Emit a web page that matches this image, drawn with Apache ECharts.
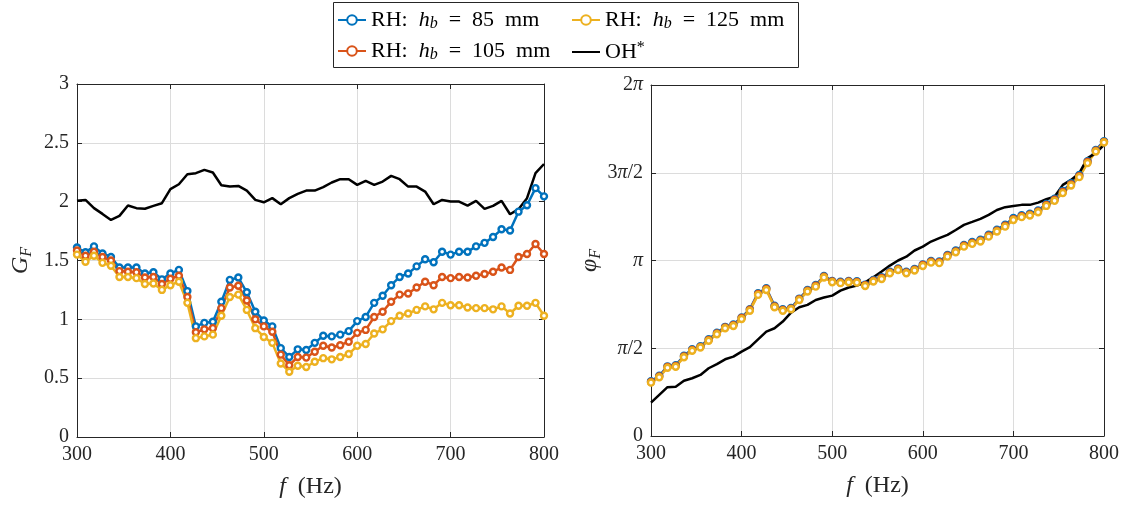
<!DOCTYPE html>
<html>
<head>
<meta charset="utf-8">
<script src="https://cdn.jsdelivr.net/npm/echarts@6/dist/echarts.min.js"></script>
<style>html,body{margin:0;padding:0;background:#fff}#c{width:1133px;height:506px}</style>
</head>
<body>
<div id="c"></div>
<script>
// Frequencies (Hz)
var freq = [300,309.09,318.18,327.27,336.36,345.45,354.55,363.64,372.73,381.82,390.91,400,409.09,418.18,427.27,436.36,445.45,454.55,463.64,472.73,481.82,490.91,500,509.09,518.18,527.27,536.36,545.45,554.55,563.64,572.73,581.82,590.91,600,609.09,618.18,627.27,636.36,645.45,654.55,663.64,672.73,681.82,690.91,700,709.09,718.18,727.27,736.36,745.45,754.55,763.64,772.73,781.82,790.91,800];

// Gain G_F (left panel)
var gain85 = [1.61,1.57,1.62,1.56,1.53,1.44,1.44,1.44,1.39,1.40,1.34,1.39,1.42,1.24,0.94,0.97,0.98,1.15,1.335,1.355,1.23,1.065,0.99,0.94,0.755,0.68,0.745,
  0.74,0.80,0.86,0.855,0.87,0.90,0.985,1.02,1.14,1.20,1.29,1.36,1.39,1.45,1.51,1.485,1.575,1.55,1.575,1.575,1.62,1.65,1.70,1.765,1.755,1.915,1.97,2.115,2.045];
var gain105 = [1.585,1.54,1.575,1.53,1.50,1.41,1.405,1.40,1.355,1.36,1.30,1.345,1.37,1.19,0.89,0.915,0.925,1.095,1.27,1.285,1.16,1.00,0.94,0.895,0.70,0.61,0.68,
  0.675,0.725,0.775,0.76,0.78,0.81,0.885,0.91,1.02,1.065,1.15,1.21,1.22,1.27,1.32,1.29,1.36,1.35,1.36,1.355,1.37,1.385,1.405,1.44,1.42,1.53,1.555,1.64,1.555];
var gain125 = [1.55,1.49,1.54,1.48,1.455,1.36,1.36,1.35,1.30,1.305,1.25,1.29,1.32,1.14,0.84,0.855,0.87,1.03,1.19,1.21,1.08,0.925,0.85,0.80,0.625,0.555,0.605,
  0.595,0.64,0.67,0.66,0.68,0.705,0.775,0.79,0.88,0.915,0.985,1.03,1.05,1.08,1.11,1.085,1.14,1.12,1.12,1.10,1.095,1.095,1.085,1.11,1.05,1.115,1.115,1.14,1.03];
var gainOH = [2.007,2.015,1.945,1.896,1.845,1.879,1.967,1.945,1.94,1.964,1.987,2.106,2.148,2.233,2.242,2.27,2.248,2.14,2.128,2.134,2.094,2.015,1.995,2.03,1.978,2.03,2.066,2.094,
  2.094,2.123,2.163,2.191,2.191,2.143,2.177,2.143,2.171,2.219,2.191,2.128,2.128,2.086,1.978,2.015,2.001,2.001,1.967,2.007,1.939,1.964,2.007,1.893,1.936,2.03,2.242,2.32];

// Phase phi_F in units of pi (right panel)
var phase85 = [0.312,0.343,0.397,0.404,0.457,0.494,0.512,0.551,0.588,0.622,0.636,0.676,0.723,0.814,0.842,0.742,0.722,0.730,0.783,0.832,0.860,0.912,0.884,0.879,0.884,0.882,0.862,0.889,0.905,0.936,0.955,0.936,0.952,0.978,0.998,0.995,1.032,1.057,1.089,1.105,1.119,1.147,1.176,1.204,1.242,1.258,1.266,1.285,1.322,1.352,1.397,1.440,1.487,1.566,1.630,1.680];
var phase105 = [0.308,0.339,0.393,0.399,0.453,0.490,0.508,0.547,0.584,0.618,0.631,0.672,0.719,0.810,0.838,0.738,0.718,0.726,0.779,0.828,0.856,0.908,0.880,0.875,0.880,0.878,0.859,0.885,0.900,0.932,0.951,0.932,0.948,0.974,0.993,0.990,1.027,1.052,1.084,1.100,1.113,1.141,1.170,1.198,1.236,1.252,1.261,1.280,1.316,1.346,1.390,1.434,1.481,1.561,1.626,1.676];
var phase125 = [0.304,0.335,0.389,0.395,0.449,0.486,0.504,0.543,0.580,0.614,0.627,0.667,0.714,0.804,0.832,0.734,0.714,0.722,0.775,0.823,0.851,0.903,0.876,0.871,0.876,0.874,0.855,0.880,0.895,0.927,0.946,0.927,0.943,0.969,0.988,0.985,1.022,1.047,1.079,1.095,1.108,1.136,1.165,1.193,1.231,1.247,1.256,1.275,1.311,1.340,1.384,1.427,1.475,1.555,1.621,1.672];
var phaseOH = [0.190,0.234,0.278,0.281,0.315,0.329,0.348,0.386,0.410,0.437,0.452,0.481,0.506,0.551,0.595,0.614,0.652,0.703,0.734,0.747,0.775,0.789,0.800,0.828,0.846,0.857,0.876,0.905,0.937,0.971,1.000,1.022,1.057,1.079,1.108,1.127,1.146,1.174,1.203,1.220,1.237,1.260,1.288,1.304,1.311,1.317,1.317,1.330,1.349,1.364,1.431,1.459,1.498,1.583,1.612,1.659];

// Tick labels
var xTicks = ['300','400','500','600','700','800'];
var gainTicks = ['0','0.5','1','1.5','2','2.5','3'];
var phaseTicks = ['0','{i|π}/2','{i|π}','3{i|π}/2','2{i|π}'];

var FONT = 'Liberation Serif';
var AX = '#262626';
var GRIDC = '#dcdcdc';
var C85 = '#0072BD', C105 = '#D95319', C125 = '#EDB120', COH = '#000000';

function pairs(ys){ return freq.map(function(f,i){ return [f, ys[i]]; }); }

var richBase = {
  n: {fontFamily: FONT, fontSize: 22, lineHeight: 24, color: '#000'},
  i: {fontFamily: FONT, fontSize: 22, fontStyle: 'italic', lineHeight: 24, color: '#000'},
  s: {fontFamily: FONT, fontSize: 16, fontStyle: 'italic', lineHeight: 14, verticalAlign: 'bottom', color: '#000'},
  sup: {fontFamily: FONT, fontSize: 16, lineHeight: 14, verticalAlign: 'top', color: '#000'}
};
var legendNames = {
  'RH85': '{n|RH:  }{i|h}{s|b}{n|  =  85  mm}',
  'RH105': '{n|RH:  }{i|h}{s|b}{n|  =  105  mm}',
  'RH125': '{n|RH:  }{i|h}{s|b}{n|  =  125  mm}',
  'OH': '{n|OH}{sup|*}'
};

function xAxisMain(gi){
  return {gridIndex: gi, type: 'value', min: 300, max: 800, interval: 100, position: 'bottom',
    axisLine: {show: true, onZero: false, lineStyle: {color: AX, width: 1}},
    axisTick: {show: true, inside: true, length: 5, lineStyle: {color: AX}},
    axisLabel: {color: AX, fontFamily: FONT, fontSize: 20, margin: 8,
      formatter: function(v){ return xTicks[Math.round((v-300)/100)]; }},
    splitLine: {show: true, lineStyle: {color: GRIDC, width: 1}},
    name: '{i|f}  (Hz)', nameLocation: 'middle', nameGap: 38,
    nameTextStyle: {fontFamily: FONT, fontSize: 24, color: AX,
      rich: {i: {fontFamily: FONT, fontSize: 24, fontStyle: 'italic', color: AX}}}
  };
}
function xAxisTop(gi){
  return {gridIndex: gi, type: 'value', min: 300, max: 800, interval: 100, position: 'top',
    axisLine: {show: true, onZero: false, lineStyle: {color: AX, width: 1}},
    axisTick: {show: true, inside: true, length: 5, lineStyle: {color: AX}},
    axisLabel: {show: false}, splitLine: {show: false}};
}
function yAxisRight(gi, mx, iv){
  return {gridIndex: gi, type: 'value', min: 0, max: mx, interval: iv, position: 'right',
    axisLine: {show: true, onZero: false, lineStyle: {color: AX, width: 1}},
    axisTick: {show: true, inside: true, length: 5, lineStyle: {color: AX}},
    axisLabel: {show: false}, splitLine: {show: false}};
}

function markerSeries(name, col, xi, yi, ys){
  return {name: name, type: 'line', xAxisIndex: xi, yAxisIndex: yi, data: pairs(ys),
    color: col, symbol: 'circle', symbolSize: 6, showSymbol: true,
    itemStyle: {color: '#ffffff', borderColor: col, borderWidth: 2.4},
    lineStyle: {color: col, width: 2.5}, emphasis: {disabled: true}};
}
function lineSeries(name, col, xi, yi, ys){
  return {name: name, type: 'line', xAxisIndex: xi, yAxisIndex: yi, data: pairs(ys),
    color: col, symbol: 'none', showSymbol: false,
    itemStyle: {color: col}, lineStyle: {color: col, width: 2.5}, emphasis: {disabled: true}};
}

var legendCommon = {
  orient: 'vertical', itemWidth: 28, itemHeight: 12, itemGap: 8, padding: 0,
  formatter: function(n){ return legendNames[n]; },
  textStyle: {fontFamily: FONT, fontSize: 22, rich: richBase},
  selectedMode: false
};

var chart = echarts.init(document.getElementById('c'), null, {renderer: 'canvas'});
chart.setOption({
  animation: false,
  backgroundColor: '#fff',
  graphic: [{type: 'rect', shape: {x: 333.5, y: 2.5, width: 465, height: 65},
    style: {fill: '#fff', stroke: AX, lineWidth: 1}, z: -1}],
  legend: [
    Object.assign({left: 337, top: 9, data: ['RH85', 'RH105']}, legendCommon),
    Object.assign({left: 571, top: 9, data: ['RH125',
      {name: 'OH', itemStyle: {color: 'rgba(0,0,0,0)', borderColor: 'rgba(0,0,0,0)', borderWidth: 0}}]}, legendCommon)
  ],
  grid: [
    {left: 77, right: 589, top: 84, bottom: 69},
    {left: 651, right: 29, top: 85, bottom: 70}
  ],
  xAxis: [xAxisMain(0), xAxisTop(0), xAxisMain(1), xAxisTop(1)],
  yAxis: [
    {gridIndex: 0, type: 'value', min: 0, max: 3, interval: 0.5, position: 'left',
      axisLine: {show: true, onZero: false, lineStyle: {color: AX, width: 1}},
      axisTick: {show: true, inside: true, length: 5, lineStyle: {color: AX}},
      axisLabel: {color: AX, fontFamily: FONT, fontSize: 20, margin: 8,
        formatter: function(v){ return gainTicks[Math.round(v/0.5)]; }},
      splitLine: {show: true, lineStyle: {color: GRIDC, width: 1}},
      name: '{i|G}{s|F}', nameLocation: 'middle', nameGap: 42, nameRotate: 90,
      nameTextStyle: {fontFamily: FONT, fontSize: 24, color: AX,
        rich: {i: {fontFamily: FONT, fontSize: 24, fontStyle: 'italic', lineHeight: 28, color: AX},
               s: {fontFamily: FONT, fontSize: 16, fontStyle: 'italic', lineHeight: 16, verticalAlign: 'bottom', color: AX}}}
    },
    yAxisRight(0, 3, 0.5),
    {gridIndex: 1, type: 'value', min: 0, max: 2, interval: 0.5, position: 'left',
      axisLine: {show: true, onZero: false, lineStyle: {color: AX, width: 1}},
      axisTick: {show: true, inside: true, length: 5, lineStyle: {color: AX}},
      axisLabel: {color: AX, fontFamily: FONT, fontSize: 20, margin: 8,
        formatter: function(v){ return phaseTicks[Math.round(v/0.5)]; },
        rich: {i: {fontFamily: FONT, fontSize: 20, fontStyle: 'italic', color: AX}}},
      splitLine: {show: true, lineStyle: {color: GRIDC, width: 1}},
      name: '{i|φ}{s|F}', nameLocation: 'middle', nameGap: 41, nameRotate: 90,
      nameTextStyle: {fontFamily: FONT, fontSize: 24, color: AX,
        rich: {i: {fontFamily: FONT, fontSize: 24, fontStyle: 'italic', lineHeight: 28, color: AX},
               s: {fontFamily: FONT, fontSize: 16, fontStyle: 'italic', lineHeight: 16, verticalAlign: 'bottom', color: AX}}}
    },
    yAxisRight(1, 2, 0.5)
  ],
  series: [
    markerSeries('RH85', C85, 0, 0, gain85),
    markerSeries('RH105', C105, 0, 0, gain105),
    markerSeries('RH125', C125, 0, 0, gain125),
    lineSeries('OH', COH, 0, 0, gainOH),
    markerSeries('RH85', C85, 2, 2, phase85),
    markerSeries('RH105', C105, 2, 2, phase105),
    markerSeries('RH125', C125, 2, 2, phase125),
    lineSeries('OH', COH, 2, 2, phaseOH)
  ]
});
</script>
</body>
</html>
